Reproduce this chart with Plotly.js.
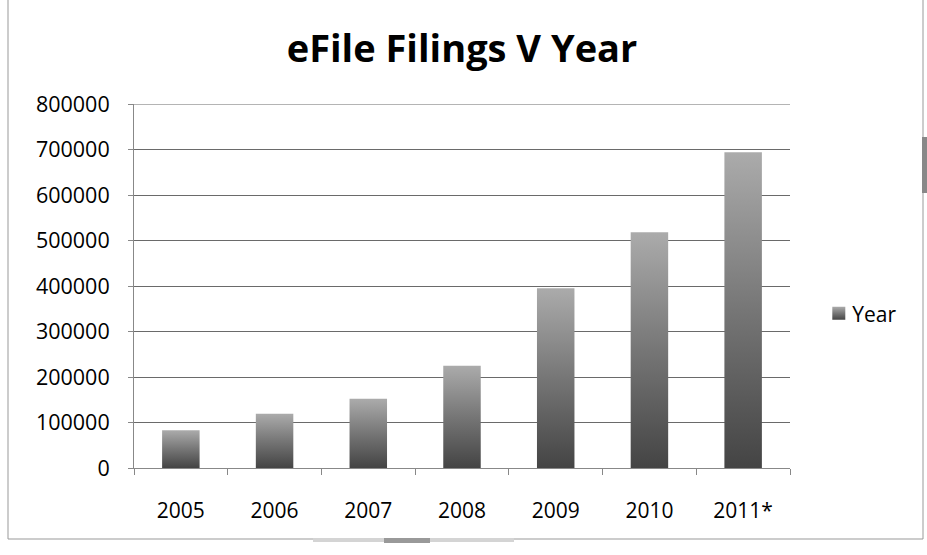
<!DOCTYPE html>
<html>
<head>
<meta charset="utf-8">
<script src="https://cdn.plot.ly/plotly-3.0.1.min.js"></script>
<style>html,body{margin:0;padding:0;background:#fff;}#chart{width:927px;height:555px;}</style>
</head>
<body>
<div id="chart"></div>
<script>
const categories = ["2005", "2006", "2007", "2008", "2009", "2010", "2011*"];
const filings = [83000, 119000, 152000, 225000, 395000, 518000, 694000];
const seriesName = "Year";
const chartTitle = "eFile Filings V Year";
const yMax = 800000;

const FONT = "'Open Sans', 'Noto Sans', sans-serif";

const trace = {
  type: "bar",
  x: categories,
  y: filings,
  name: seriesName,
  showlegend: true,
  marker: { color: "#6c6c6c", line: { width: 0 } },
  hoverinfo: "x+y"
};

const layout = {
  width: 927,
  height: 555,
  paper_bgcolor: "#ffffff",
  plot_bgcolor: "#ffffff",
  margin: { l: 134, r: 137, t: 104, b: 87 },
  font: { family: FONT, color: "#000", size: 21 },
  title: {
    text: "<b>" + chartTitle + "</b>",
    font: { family: FONT, size: 38, color: "#000" },
    x: 0.5, xanchor: "center",
    y: 0.913, yanchor: "middle", xref: "paper", yref: "container"
  },
  bargap: 0.6,
  xaxis: {
    type: "category",
    showgrid: false,
    showline: true,
    linecolor: "#888",
    linewidth: 1,
    ticks: "outside",
    tickson: "boundaries",
    ticklen: 6,
    tickcolor: "#888",
    ticklabelstandoff: 24,
    tickfont: { family: FONT, size: 21, color: "#000" }
  },
  yaxis: {
    range: [0, yMax],
    dtick: 100000,
    tick0: 0,
    showgrid: true,
    gridcolor: "#6a6a6a",
    gridwidth: 1,
    zeroline: false,
    showline: true,
    linecolor: "#888",
    linewidth: 1,
    ticks: "outside",
    ticklen: 5,
    tickcolor: "#888",
    ticklabelstandoff: 14,
    tickformat: "d",
    tickfont: { family: FONT, size: 21.5, color: "#000" }
  },
  showlegend: true,
  legend: {
    x: 1.034, xanchor: "left",
    y: 0.424, yanchor: "middle",
    font: { family: FONT, size: 21, color: "#000" },
    itemwidth: 30,
    bgcolor: "rgba(0,0,0,0)"
  },
  shapes: [
    { type: "line", xref: "paper", yref: "y", x0: 0, x1: 1, y0: yMax, y1: yMax,
      line: { color: "#6a6a6a", width: 1 } },
    { type: "rect", xref: "paper", yref: "paper",
      x0: -126/656, x1: 789/656, y0: -71/364, y1: 520/364,
      line: { color: "#999", width: 1 }, fillcolor: "rgba(0,0,0,0)" },
    { type: "rect", xref: "paper", yref: "paper",
      x0: 788/656, x1: 795/656, y0: (468-193)/364, y1: (468-137)/364,
      line: { width: 0 }, fillcolor: "#888" },
    { type: "rect", xref: "paper", yref: "paper",
      x0: 179/656, x1: 380/656, y0: -74/364, y1: -70/364,
      line: { width: 0 }, fillcolor: "#d4d4d4" },
    { type: "rect", xref: "paper", yref: "paper",
      x0: 250/656, x1: 296/656, y0: -75/364, y1: -70/364,
      line: { width: 0 }, fillcolor: "#999" }
  ]
};

Plotly.newPlot("chart", [trace], layout, { displayModeBar: false, staticPlot: true }).then(function (gd) {
  const svg = gd.querySelector("svg.main-svg");
  const ns = "http://www.w3.org/2000/svg";
  let defs = svg.querySelector("defs");
  if (!defs) { defs = document.createElementNS(ns, "defs"); svg.insertBefore(defs, svg.firstChild); }
  const grad = document.createElementNS(ns, "linearGradient");
  grad.setAttribute("id", "barGrad");
  grad.setAttribute("x1", "0"); grad.setAttribute("y1", "0");
  grad.setAttribute("x2", "0"); grad.setAttribute("y2", "1");
  [["0", "#ababab"], ["0.5", "#767676"], ["1", "#444444"]].forEach(function (s) {
    const st = document.createElementNS(ns, "stop");
    st.setAttribute("offset", s[0]);
    st.setAttribute("stop-color", s[1]);
    grad.appendChild(st);
  });
  defs.appendChild(grad);
  gd.querySelectorAll(".bars .point path").forEach(function (p) { p.style.fill = "url(#barGrad)"; });
  gd.querySelectorAll(".legendpoints path").forEach(function (p) {
    p.style.fill = "url(#barGrad)";
    p.setAttribute("d", "M13,6.5H0V-6.5H13Z");
  });
});
</script>
</body>
</html>
